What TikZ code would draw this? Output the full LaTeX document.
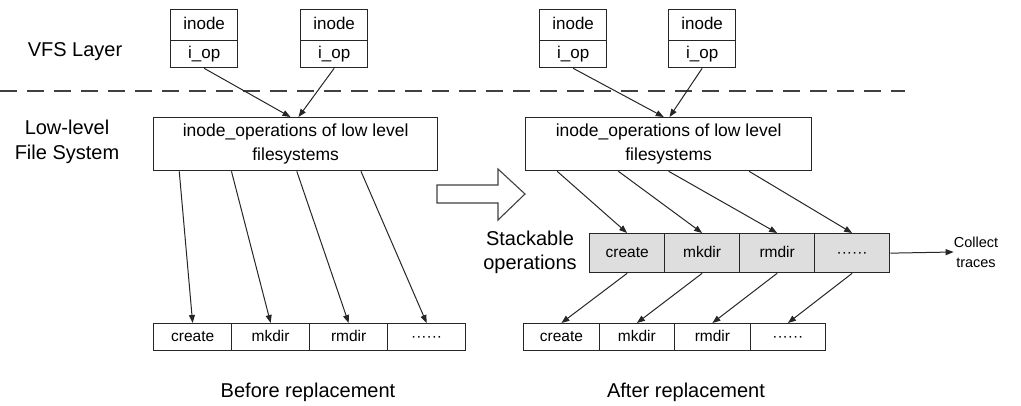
\documentclass[tikz,border=0pt]{standalone}
\usepackage{fontspec}
\setmainfont{Liberation Sans}
\usetikzlibrary{arrows.meta,calc}
\begin{document}
\begin{tikzpicture}[x=1pt,y=-1pt,
  box/.style={draw=black!85,line width=1.3pt,inner sep=0pt,anchor=north west},
  topcell/.style={box,minimum width=67pt,minimum height=31pt,font=\fontsize{17}{20}\selectfont,text height=12pt,text depth=3.5pt},
  botcell/.style={box,minimum width=67pt,minimum height=27pt,font=\fontsize{17}{20}\selectfont,text height=12pt,text depth=3.5pt},
  opcell/.style={box,minimum width=78pt,minimum height=27pt,font=\fontsize{15.5}{18}\selectfont,text height=11pt,text depth=3pt},
  opcellr/.style={box,minimum width=75.5pt,minimum height=27pt,font=\fontsize{15.5}{18}\selectfont,text height=11pt,text depth=3pt},
  stcell/.style={box,fill=black!13,minimum width=75pt,minimum height=39pt,font=\fontsize{15.5}{18}\selectfont,text height=11pt,text depth=3pt},
  midbox/.style={box,minimum height=53pt,align=center,font=\fontsize{17.5}{24}\selectfont},
  biglabel/.style={align=center,font=\fontsize{20}{25}\selectfont,inner sep=0pt},
  arr/.style={draw=black!85,line width=1pt,-{Triangle[length=8pt,width=6pt]}}
]
\useasboundingbox (0,0) rectangle (1021,405);

% labels
\node[biglabel] (vfs) at (75,52) {VFS Layer};
\node[biglabel] (low) at (67,142) {Low-level\\File System};
\node[biglabel] (before) at (308,392) {Before replacement};
\node[biglabel] (after) at (686,392) {After replacement};
\node[biglabel,font=\fontsize{20}{24}\selectfont] (stack) at (530,252) {Stackable\\operations};
\node[align=center,inner sep=0pt,font=\fontsize{14.5}{20}\selectfont] (collect) at (976,252) {Collect\\traces};

% dashed separator
\draw[black!75,line width=1.4pt,dash pattern=on 17pt off 10pt] (0,91) -- (905,91);

% inode boxes
\node[topcell] (in1) at (170,9) {inode};
\node[botcell] (op1) at (170,40) {i\_op};
\node[topcell] (in2) at (300,9) {inode};
\node[botcell] (op2) at (300,40) {i\_op};
\node[topcell] (in3) at (539,9) {inode};
\node[botcell] (op3) at (539,40) {i\_op};
\node[topcell] (in4) at (668,9) {inode};
\node[botcell] (op4) at (668,40) {i\_op};

% middle boxes
\node[midbox,minimum width=284pt] (mid1) at (153,117) {inode\_operations of low level\\filesystems};
\node[midbox,minimum width=286pt] (mid2) at (525,117) {inode\_operations of low level\\filesystems};

% bottom left cells
\node[opcell] (l1) at (153,323) {create};
\node[opcell] (l2) at (231,323) {mkdir};
\node[opcell] (l3) at (309,323) {rmdir};
\node[opcell] (l4) at (387,323) {······};

% stackable cells
\node[stcell] (s1) at (589,233) {create};
\node[stcell] (s2) at (664,233) {mkdir};
\node[stcell] (s3) at (739,233) {rmdir};
\node[stcell] (s4) at (814,233) {······};

% bottom right cells
\node[opcellr] (r1) at (523,323) {create};
\node[opcellr] (r2) at (598.5,323) {mkdir};
\node[opcellr] (r3) at (674,323) {rmdir};
\node[opcellr] (r4) at (749.5,323) {······};

% arrows VFS -> low level
\draw[arr] (op1.south) -- ($(mid1.north west)!0.482!(mid1.north east)$);
\draw[arr] (op2.south) -- ($(mid1.north west)!0.51!(mid1.north east)$);
\draw[arr] (op3.south) -- ($(mid2.north west)!0.483!(mid2.north east)$);
\draw[arr] (op4.south) -- ($(mid2.north west)!0.503!(mid2.north east)$);

% before replacement
\draw[arr] ($(mid1.south west)!0.092!(mid1.south east)$) -- (l1.north);
\draw[arr] ($(mid1.south west)!0.275!(mid1.south east)$) -- (l2.north);
\draw[arr] ($(mid1.south west)!0.504!(mid1.south east)$) -- (l3.north);
\draw[arr] ($(mid1.south west)!0.729!(mid1.south east)$) -- (l4.north);

% after replacement
\draw[arr] ($(mid2.south west)!0.112!(mid2.south east)$) -- (s1.north);
\draw[arr] ($(mid2.south west)!0.325!(mid2.south east)$) -- (s2.north);
\draw[arr] ($(mid2.south west)!0.5!(mid2.south east)$) -- (s3.north);
\draw[arr] ($(mid2.south west)!0.78!(mid2.south east)$) -- (s4.north);

\draw[arr] (s1.south) -- (r1.north);
\draw[arr] (s2.south) -- (r2.north);
\draw[arr] (s3.south) -- (r3.north);
\draw[arr] (s4.south) -- (r4.north);

\draw[arr] (s4.east) -- (collect.west);

% hollow arrow
\draw[draw=black!75,line width=1.1pt,fill=white]
  (437,185) -- (498,185) -- (498,169) -- (525,194) -- (498,220) -- (498,203) -- (437,203) -- cycle;
\end{tikzpicture}
\end{document}
